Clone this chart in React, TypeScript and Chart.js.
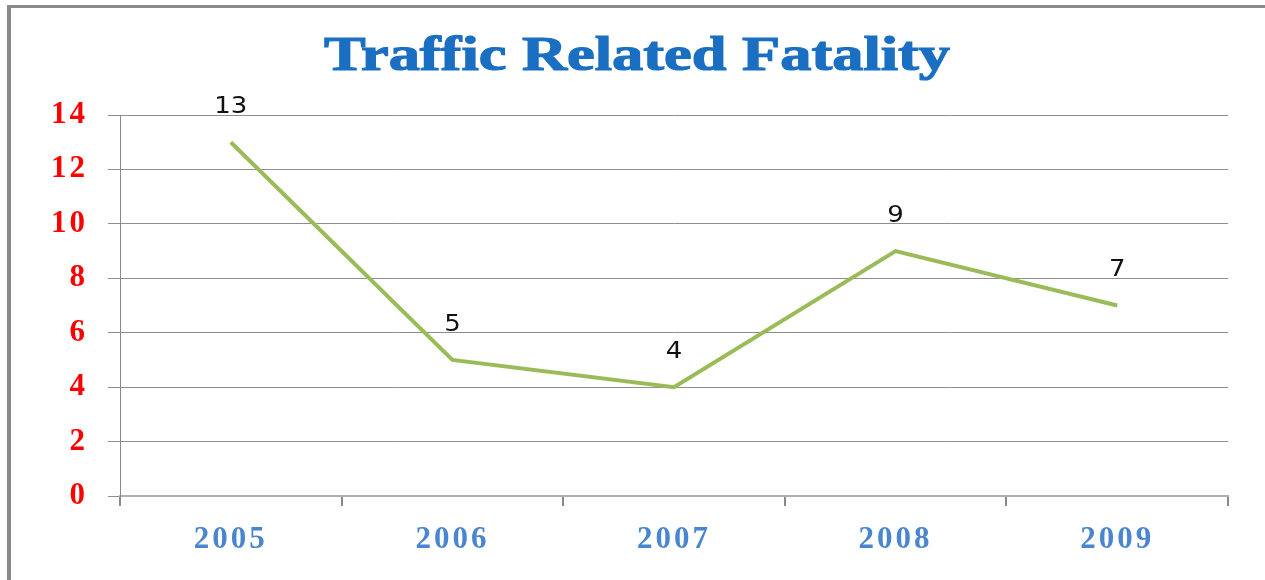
import React, { useEffect, useRef } from "react";
import { Chart, registerables } from "chart.js";

Chart.register(...registerables);

const TITLE = "Traffic Related Fatality";
const YEARS = ["2005", "2006", "2007", "2008", "2009"];
const FATALITIES = [13, 5, 4, 9, 7];
const Y_MIN = 0;
const Y_MAX = 14;
const Y_STEP = 2;

const framePlugin = {
  id: "frame",
  beforeDraw(chart: any) {
    const ctx = chart.ctx;
    ctx.save();
    ctx.fillStyle = "#ffffff";
    ctx.fillRect(0, 0, chart.width, chart.height);
    ctx.fillStyle = "#8a8a8a";
    ctx.fillRect(7, 5, chart.width - 7, 3);
    ctx.fillRect(7, 5, 4, chart.height - 5);
    ctx.restore();
    // widen tick label glyph spacing (reference text is horizontally stretched)
    (ctx as any).letterSpacing = "3px";
  },
  beforeDatasetsDraw(chart: any) {
    (chart.ctx as any).letterSpacing = "0px";
  },
  afterDatasetsDraw(chart: any) {
    const ctx = chart.ctx;
    const meta = chart.getDatasetMeta(0);
    const data = chart.data.datasets[0].data as number[];
    ctx.save();
    ctx.fillStyle = "#111111";
    ctx.font = "23px 'DejaVu Sans'";
    ctx.textAlign = "center";
    ctx.textBaseline = "middle";
    meta.data.forEach((pt: any, i: number) => {
      ctx.save();
      ctx.translate(pt.x, pt.y - 35);
      ctx.scale(1.13, 1);
      ctx.fillText(String(data[i]), 0, 0);
      ctx.restore();
    });
    ctx.restore();
  },
  afterDraw(chart: any) {
    const ctx = chart.ctx;
    ctx.save();
    ctx.fillStyle = "#1a6fc2";
    ctx.strokeStyle = "#1a6fc2";
    ctx.lineWidth = 1.2;
    ctx.font = "bold 48px 'Liberation Serif'";
    ctx.textAlign = "center";
    ctx.textBaseline = "alphabetic";
    ctx.translate(637, 70);
    ctx.scale(1.3, 1);
    ctx.fillText(TITLE, 0, 0);
    ctx.strokeText(TITLE, 0, 0);
    ctx.restore();
  },
};

export default function App() {
  const canvasRef = useRef<HTMLCanvasElement | null>(null);

  useEffect(() => {
    const canvas = canvasRef.current;
    if (!canvas) return;
    const chart = new Chart(canvas, {
      type: "line",
      data: {
        labels: YEARS,
        datasets: [
          {
            label: "Fatalities",
            data: FATALITIES,
            borderColor: "#9bbb59",
            backgroundColor: "#9bbb59",
            borderWidth: 4,
            pointRadius: 0,
            pointHoverRadius: 0,
            tension: 0,
            fill: false,
          },
        ],
      },
      options: {
        animation: false,
        responsive: false,
        devicePixelRatio: 1,
        layout: { padding: { top: 115, right: 37, bottom: 0, left: 0 } },
        plugins: {
          legend: { display: false },
          title: { display: false },
          tooltip: { enabled: false },
        },
        scales: {
          x: {
            type: "category",
            offset: true,
            grid: {
              offset: true,
              drawOnChartArea: false,
              drawTicks: true,
              tickLength: 10,
              color: "#8a8a8a",
              lineWidth: 2,
            },
            border: { display: true, color: "#b0b0b0", width: 2 },
            ticks: {
              color: "#4a86d0",
              font: { family: "'Liberation Serif'", size: 31, weight: "bold" },
              padding: 15,
              maxRotation: 0,
              autoSkip: false,
            },
            afterFit: (scale: any) => {
              scale.height = 84;
            },
          },
          y: {
            min: Y_MIN,
            max: Y_MAX,
            ticks: {
              stepSize: Y_STEP,
              color: "#ff0000",
              font: { family: "'Liberation Serif'", size: 31, weight: "bold" },
              padding: 20,
            },
            grid: {
              color: "#8e8e8e",
              lineWidth: 1,
              drawTicks: true,
              tickLength: 12,
            },
            border: { display: true, color: "#8a8a8a", width: 1 },
            afterFit: (scale: any) => {
              scale.width = 120;
            },
          },
        },
      },
      plugins: [framePlugin],
    });
    return () => chart.destroy();
  }, []);

  return (
    <div
      style={{
        position: "absolute",
        left: 0,
        top: 0,
        width: 1265,
        height: 580,
        background: "#ffffff",
      }}
    >
      <canvas ref={canvasRef} width={1265} height={580} style={{ display: "block" }} />
    </div>
  );
}
